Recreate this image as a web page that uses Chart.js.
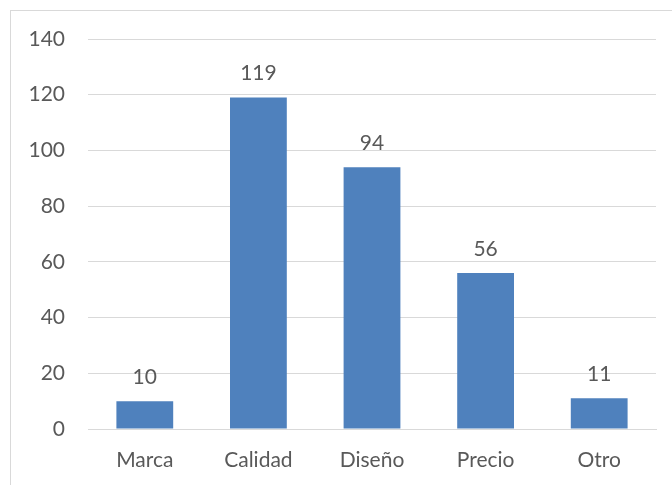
<!DOCTYPE html>
<html>
<head>
<meta charset="utf-8">
<script src="https://cdn.jsdelivr.net/npm/chart.js@4/dist/chart.umd.min.js"></script>
<style>
  html, body { margin: 0; padding: 0; background: #fff; }
  #wrap { position: relative; width: 672px; height: 485px; overflow: hidden; }
  #frame { position: absolute; left: 10px; top: 10px; width: 700px; height: 520px; border: 1px solid #d9d9d9; box-sizing: border-box; }
  canvas { position: absolute; left: 0; top: 0; }
</style>
</head>
<body>
<div id="wrap">
  <div id="frame"></div>
  <canvas id="chart" width="672" height="485"></canvas>
</div>
<script>
// --- Data ---
const categories = ["Marca", "Calidad", "Diseño", "Precio", "Otro"];
const counts = [10, 119, 94, 56, 11];
const yTicks = [0, 20, 40, 60, 80, 100, 120, 140];

const FONT = "Lato, 'Open Sans', sans-serif";
const TEXT = "#595959";

// draw value labels above each bar
const valueLabels = {
  id: "valueLabels",
  afterDatasetsDraw(chart) {
    const ctx = chart.ctx;
    const meta = chart.getDatasetMeta(0);
    ctx.save();
    ctx.font = "21px " + FONT;
    ctx.fillStyle = TEXT;
    ctx.textAlign = "center";
    ctx.textBaseline = "middle";
    meta.data.forEach((bar, i) => {
      ctx.fillText(String(counts[i]), bar.x, bar.y - 24);
    });
    ctx.restore();
  },
};

new Chart(document.getElementById("chart"), {
  type: "bar",
  data: {
    labels: categories,
    datasets: [
      {
        data: counts,
        backgroundColor: "#4F81BD",
        barPercentage: 0.5,
        categoryPercentage: 1,
      },
    ],
  },
  options: {
    responsive: false,
    animation: false,
    layout: { padding: { top: 39, right: 16, left: 0, bottom: 0 } },
    plugins: {
      legend: { display: false },
      tooltip: { enabled: false },
    },
    scales: {
      y: {
        min: 0,
        max: 140,
        afterFit: (s) => { s.width = 88; },
        afterBuildTicks: (s) => { s.ticks = yTicks.map((v) => ({ value: v })); },
        ticks: { color: TEXT, font: { family: FONT, size: 21 }, padding: 23 },
        grid: { color: "#d9d9d9", drawTicks: false },
        border: { display: false },
      },
      x: {
        afterFit: (s) => { s.height = 56; },
        ticks: { color: TEXT, font: { family: FONT, size: 21 }, padding: 19 },
        grid: { display: false, drawTicks: false },
        border: { color: "#d9d9d9" },
      },
    },
  },
  plugins: [valueLabels],
});
</script>
</body>
</html>
